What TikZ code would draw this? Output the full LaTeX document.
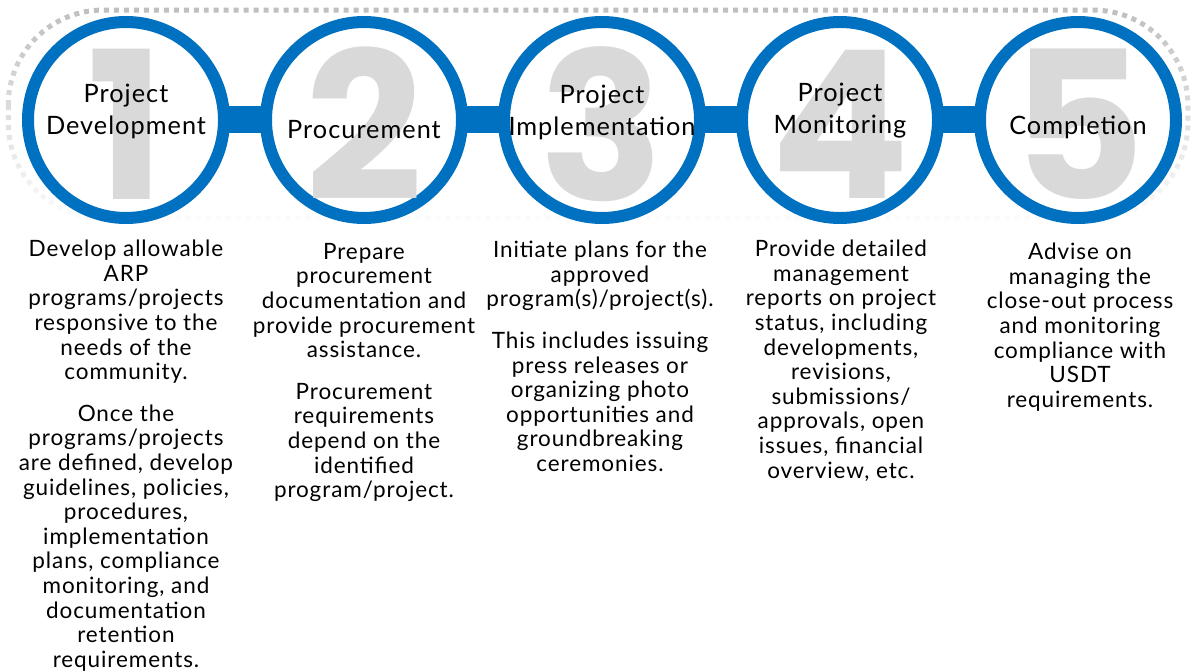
\documentclass[tikz,border=0pt]{standalone}
\usepackage{fontspec}
\setmainfont{Lato}[LetterSpace=4]
\newfontfamily\digitfont{Poppins}
\usetikzlibrary{fadings}

\definecolor{stepblue}{HTML}{0070C0}
\definecolor{digitgray}{HTML}{D9D9D9}
\definecolor{dotgray}{HTML}{BFBFBF}

% the dotted frame fades out towards its lower edge
\tikzfading[name=borderfade, top color=transparent!0, middle color=transparent!15, bottom color=transparent!95]

\begin{document}
\begin{tikzpicture}[x=1pt, y=-1pt,
  ring/.style={circle, draw=stepblue, line width=12pt, fill=white,
               minimum size=196pt, inner sep=0pt},
  link/.style={stepblue, line width=27pt, shorten <=-4pt, shorten >=-4pt},
  digit/.style={text=digitgray, inner sep=0pt,
                font=\digitfont\bfseries\fontsize{206}{206}\selectfont},
  title/.style={align=center, inner sep=0pt,
                font=\fontsize{25.3}{32}\selectfont},
  desc/.style={align=center, inner sep=0pt, anchor=north,
               font=\fontsize{22.5}{24.6}\selectfont},
  frame/.style={draw=dotgray, line width=5pt, dash pattern=on 5pt off 5pt,
                rounded corners=95pt, path fading=borderfade}
]
\useasboundingbox (0,0) rectangle (1194,671);

% dotted frame around the row of steps
\draw[frame] (9,10) rectangle (1190,218);

% step rings
\node[ring] (c1) at (126,120) {};
\node[ring] (c2) at (364,120) {};
\node[ring] (c3) at (602,120) {};
\node[ring] (c4) at (840,120) {};
\node[ring] (c5) at (1078,120) {};

% connecting bars
\draw[link] (c1.east) -- (c2.west);
\draw[link] (c2.east) -- (c3.west);
\draw[link] (c3.east) -- (c4.west);
\draw[link] (c4.east) -- (c5.west);

% large step numbers
\node[digit] (d1) at (126,124) {1};
\node[digit] (d2) at (364,124) {2};
\node[digit] (d3) at (602,124) {3};
\node[digit] (d4) at (840,124) {4};
\node[digit] (d5) at (1078,124) {5};

% step titles
\node[title] (t1) at (126,111) {Project\\Development};
\node[title] (t2) at (364,130) {Procurement};
\node[title] (t3) at (602,112) {Project\\Implementation};
\node[title] (t4) at (840,111) {Project\\Monitoring};
\node[title] (t5) at (1078,127) {Completion};

% step descriptions
\node[desc] (p1) at (126,240) {Develop allowable\\ARP\\programs/projects\\responsive to the\\needs of the\\community.\\[17pt]
Once the\\programs/projects\\are defined, develop\\guidelines, policies,\\procedures,\\implementation\\plans, compliance\\monitoring, and\\documentation\\retention\\requirements.};
\node[desc] (p2) at (364,243) {Prepare\\procurement\\documentation and\\provide procurement\\assistance.\\[17pt]
Procurement\\requirements\\depend on the\\identified\\program/project.};
\node[desc] (p3) at (600,241) {Initiate plans for the\\approved\\program(s)/project(s).\\[17pt]
This includes issuing\\press releases or\\organizing photo\\opportunities and\\groundbreaking\\ceremonies.};
\node[desc] (p4) at (841,240) {Provide detailed\\management\\reports on project\\status, including\\developments,\\revisions,\\submissions/\\approvals, open\\issues, financial\\overview, etc.};
\node[desc] (p5) at (1080,243) {Advise on\\managing the\\close-out process\\and monitoring\\compliance with\\USDT\\requirements.};
\end{tikzpicture}
\end{document}
